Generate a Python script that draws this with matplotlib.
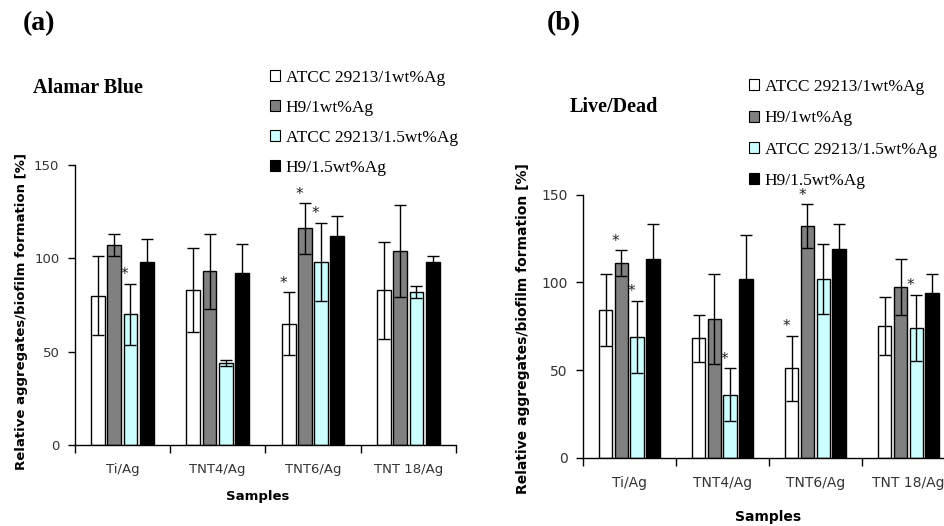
import numpy as np
import matplotlib
matplotlib.use('Agg')
import matplotlib.pyplot as plt
from matplotlib.patches import Patch

samples = ['Ti/Ag', 'TNT4/Ag', 'TNT6/Ag', 'TNT 18/Ag']
series = ['ATCC 29213/1wt%Ag', 'H9/1wt%Ag', 'ATCC 29213/1.5wt%Ag', 'H9/1.5wt%Ag']
colors = ['white', '#808080', '#ccffff', 'black']

# (a) Alamar Blue
ab_atcc_1 = [80, 83, 65, 83]
ab_h9_1 = [107, 93, 116, 104]
ab_atcc_15 = [70, 44, 98, 82]
ab_h9_15 = [98, 92, 112, 98]
ab_err_atcc_1 = [21, 22.5, 17, 26]
ab_err_h9_1 = [6, 20, 13.5, 24.5]
ab_err_atcc_15 = [16.5, 1.5, 21, 3]
ab_err_h9_15 = [12.5, 15.5, 10.5, 3]
ab_stars = [(0, 2), (2, 0), (2, 1), (2, 2)]

# (b) Live/Dead
ld_atcc_1 = [84, 68, 51, 75]
ld_h9_1 = [111, 79, 132, 97.5]
ld_atcc_15 = [69, 36, 102, 74]
ld_h9_15 = [113.5, 102, 119, 94]
ld_err_atcc_1 = [20.5, 13.5, 18.5, 16.5]
ld_err_h9_1 = [7.5, 25.5, 12.5, 16]
ld_err_atcc_15 = [20.5, 15, 20, 19]
ld_err_h9_15 = [20, 25, 14.5, 10.5]
ld_stars = [(0, 1), (0, 2), (1, 2), (2, 0), (2, 1), (3, 2)]

fig = plt.figure(figsize=(9.44, 5.26), dpi=100)
W, H = 944, 526


def panel(rect, vals, errs, stars, fs, lfs):
    ax = fig.add_axes(rect)
    x = np.arange(len(samples))
    for i in range(4):
        xs = x + (i - 1.5) * 0.17
        ax.bar(xs, vals[i], 0.145, color=colors[i], edgecolor='black', linewidth=1.0, zorder=2)
        ax.errorbar(xs, vals[i], yerr=errs[i], fmt='none', ecolor='black',
                    elinewidth=1.0, capsize=4, capthick=1.0, zorder=3)
    for g, s in stars:
        xs = g + (s - 1.5) * 0.17 - 0.06
        ax.annotate('*', (xs, vals[s][g] + errs[s][g]), xytext=(0, 1), textcoords='offset points',
                    ha='center', va='bottom', fontsize=11, color='#222222')
    ax.set_xlim(-0.5, 3.5)
    ax.set_ylim(0, 150)
    ax.set_yticks([0, 50, 100, 150])
    ax.set_xticks(np.arange(-0.5, 4, 1))
    ax.set_xticklabels([])
    ax.set_xticks(x, minor=True)
    ax.set_xticklabels(samples, minor=True, fontsize=fs, color='#333333')
    ax.tick_params(axis='x', which='major', direction='out', length=6, width=1)
    ax.tick_params(axis='x', which='minor', length=0, pad=13)
    ax.tick_params(axis='y', direction='out', length=5, width=1, labelsize=fs, labelcolor='#333333', pad=6)
    ax.spines['top'].set_visible(False)
    ax.spines['right'].set_visible(False)
    ax.spines['left'].set_linewidth(1)
    ax.spines['bottom'].set_linewidth(1)
    ax.set_ylabel('Relative aggregates/biofilm formation [%]', fontsize=lfs, fontweight='bold')
    ax.set_xlabel('Samples', fontsize=lfs, fontweight='bold')
    return ax


ax1 = panel([74.7 / W, 1 - 445 / H, (456 - 74.7) / W, 280 / H],
            [ab_atcc_1, ab_h9_1, ab_atcc_15, ab_h9_15],
            [ab_err_atcc_1, ab_err_h9_1, ab_err_atcc_15, ab_err_h9_15], ab_stars, 9.5, 9.5)
ax1.yaxis.set_label_coords(-0.122, 0.475)
ax1.xaxis.set_label_coords(0.48, -0.16)

ax2 = panel([582.7 / W, 1 - 457.7 / H, (955 - 582.7) / W, 263 / H],
            [ld_atcc_1, ld_h9_1, ld_atcc_15, ld_h9_15],
            [ld_err_atcc_1, ld_err_h9_1, ld_err_atcc_15, ld_err_h9_15], ld_stars, 10, 10)
ax2.yaxis.set_label_coords(-0.142, 0.49)
ax2.xaxis.set_label_coords(0.498, -0.2)

serif = ['Liberation Serif', 'DejaVu Serif']
fig.text(23 / W, 1 - 24 / H, '(a)', fontsize=20, fontweight='bold', family=serif, va='center')
fig.text(547 / W, 1 - 24 / H, '(b)', fontsize=20, fontweight='bold', family=serif, va='center')
fig.text(33 / W, 1 - 88 / H, 'Alamar Blue', fontsize=14.5, fontweight='bold', family=serif, va='center')
fig.text(570 / W, 1 - 107 / H, 'Live/Dead', fontsize=14.5, fontweight='bold', family=serif, va='center')

handles = [Patch(facecolor=c, edgecolor='black', linewidth=0.8) for c in colors]
for lx, ly, sp in [(270, 70, 0.8), (749, 79, 0.88)]:
    fig.legend(handles, series, loc='upper left', bbox_to_anchor=(lx / W, 1 - ly / H),
               frameon=False, prop={'family': serif, 'size': 12.5}, handlelength=0.6,
               handleheight=0.6, handletextpad=0.3, labelspacing=sp,
               borderpad=0, borderaxespad=0)

fig.savefig('out.png', dpi=100)
